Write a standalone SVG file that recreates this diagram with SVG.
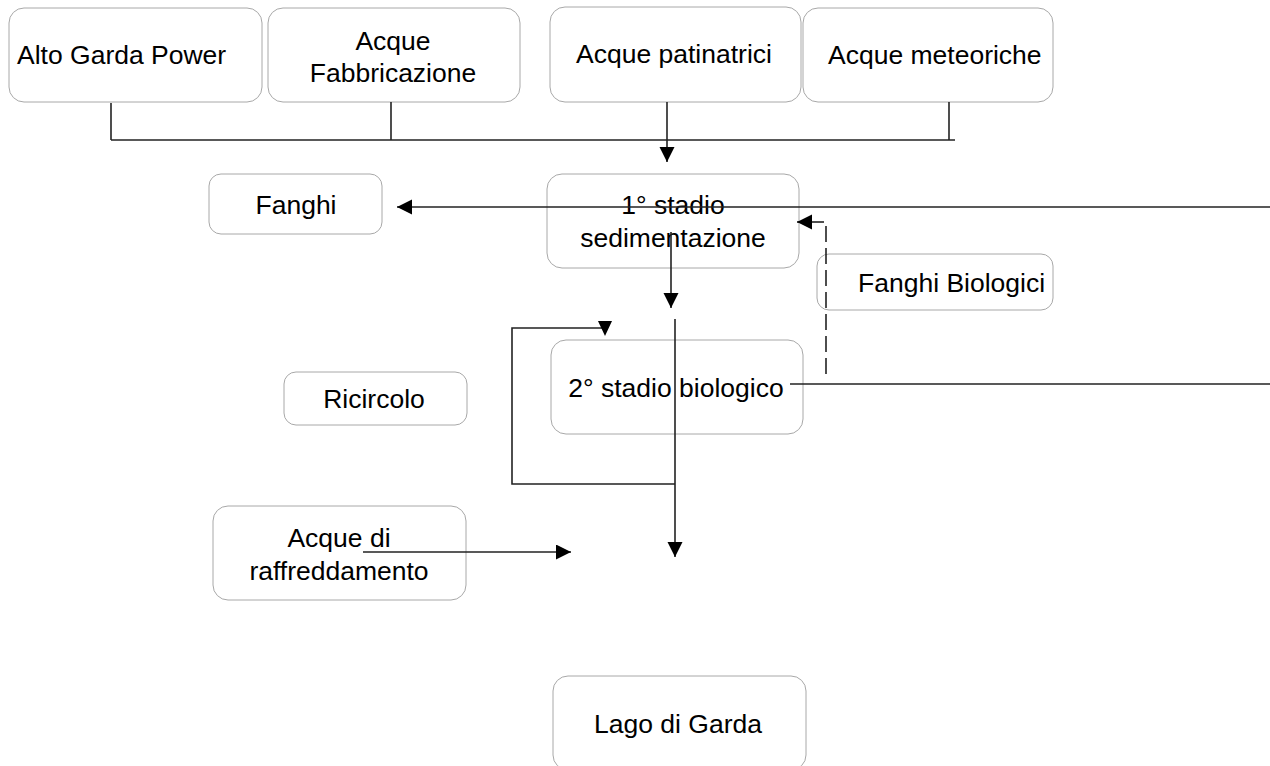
<svg xmlns="http://www.w3.org/2000/svg" width="1270" height="766" viewBox="0 0 1270 766">
<defs>
<style>
.box{fill:#ffffff;stroke:#a8a8a8;stroke-width:1}
.t{font-family:"Liberation Sans",Arial,sans-serif;font-size:26.5px;fill:#000}
.c{text-anchor:middle}
.ln{fill:none;stroke:#222;stroke-width:1.6}
.dash{fill:none;stroke:#222;stroke-width:1.6;stroke-dasharray:16 6}
.ah{fill:#000}
</style>
<marker id="arr" markerUnits="userSpaceOnUse" markerWidth="16" markerHeight="16" refX="15" refY="7.5" orient="auto">
<path d="M0,0 L15,7.5 L0,15 z" fill="#000"/>
</marker>
</defs>
<rect width="1270" height="766" fill="#fff"/>

<g id="n-alto">
<rect class="box" x="9" y="8" width="253" height="94" rx="15"/>
<text class="t" x="17" y="64">Alto Garda Power</text>
</g>
<g id="n-fabbricazione">
<rect class="box" x="268" y="8" width="252" height="94" rx="15"/>
<text class="t c" x="393" y="50">Acque</text>
<text class="t c" x="393" y="82">Fabbricazione</text>
</g>
<g id="n-patinatrici">
<rect class="box" x="550" y="7" width="251" height="95" rx="15"/>
<text class="t c" x="674" y="63">Acque patinatrici</text>
</g>
<g id="n-meteoriche">
<rect class="box" x="803" y="8" width="250" height="94" rx="15"/>
<text class="t" x="828" y="64">Acque meteoriche</text>
</g>
<g id="n-fanghi">
<rect class="box" x="209" y="174" width="173" height="60" rx="12"/>
<text class="t c" x="296" y="214">Fanghi</text>
</g>
<g id="n-stadio1">
<rect class="box" x="547" y="174" width="252" height="94" rx="15"/>
<text class="t c" x="673" y="214">1° stadio</text>
<text class="t c" x="673" y="247">sedimentazione</text>
</g>
<g id="n-fanghibio">
<rect class="box" x="817" y="254" width="236" height="56" rx="12"/>
<text class="t" x="858" y="292">Fanghi Biologici</text>
</g>
<g id="n-ricircolo">
<rect class="box" x="284" y="372" width="183" height="53" rx="12"/>
<text class="t c" x="374" y="408">Ricircolo</text>
</g>
<g id="n-stadio2">
<rect class="box" x="551" y="340" width="252" height="94" rx="15"/>
<text class="t c" x="676" y="397">2° stadio biologico</text>
</g>
<g id="n-raffreddamento">
<rect class="box" x="213" y="506" width="253" height="94" rx="15"/>
<text class="t c" x="339" y="547">Acque di</text>
<text class="t c" x="339" y="580">raffreddamento</text>
</g>
<g id="n-lago">
<rect class="box" x="553" y="676" width="253" height="94" rx="15"/>
<text class="t c" x="678" y="733">Lago di Garda</text>
</g>

<g id="connectors">
<path class="ln" d="M111,103 V140"/>
<path class="ln" d="M391,102 V140"/>
<path class="ln" d="M949,102 V140"/>
<path class="ln" d="M111,140 H955"/>
<path class="ln" d="M667,102 V162" marker-end="url(#arr)"/>
<path class="ln" d="M1270,207 H397" marker-end="url(#arr)"/>
<path class="ln" d="M671,232 V308" marker-end="url(#arr)"/>
<path class="dash" d="M826,226 V380"/>
<path class="ln" d="M824,222 H797" marker-end="url(#arr)"/>
<path class="ln" d="M790,384 H1270"/>
<path class="ln" d="M675,319 V557" marker-end="url(#arr)"/>
<path class="ln" d="M675,484 H512 V328 H605"/>
<polygon class="ah" points="598,321 612,321 605,336"/>
<path class="ln" d="M363,552 H571" marker-end="url(#arr)"/>
</g>
</svg>
